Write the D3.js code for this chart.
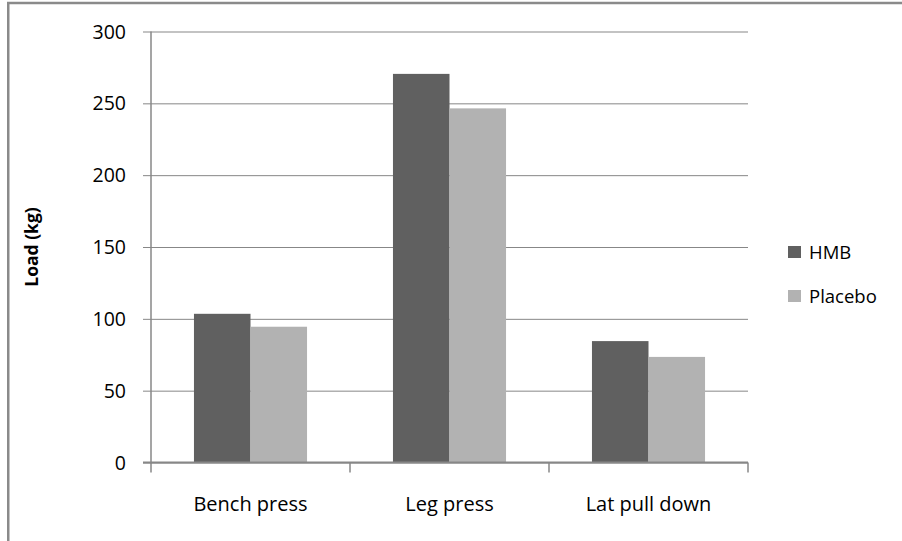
<!DOCTYPE html>
<html>
<head>
<meta charset="utf-8">
<script src="https://cdn.jsdelivr.net/npm/d3@7"></script>
<style>
body { margin: 0; background: #fff; }
svg { display: block; }
text { font-family: "Open Sans", sans-serif; fill: #000; }
</style>
</head>
<body>
<div id="chartArea"></div>
<script>
// data
const categories = ["Bench press", "Leg press", "Lat pull down"];
const seriesNames = ["HMB", "Placebo"];
const hmbValues = [103.5, 270.5, 84.5];
const placeboValues = [94.5, 246.5, 73.5];
const yTicks = [0, 50, 100, 150, 200, 250, 300];

const colors = { HMB: "#606060", Placebo: "#b2b2b2" };
const gridColor = "#878787";

const W = 902, H = 541;
const margin = { top: 31.5, left: 151, right: 154, bottom: 78.5 },
width = W - margin.left - margin.right,
height = H - margin.top - margin.bottom;

const svg = d3.select("#chartArea")
.append("svg")
.attr("width", W)
.attr("height", H);

// outer frame: only top and left edges are inside the picture
svg.append("line")
.attr("x1", 7).attr("x2", W)
.attr("y1", 3).attr("y2", 3)
.attr("stroke", "#8a8a8a")
.attr("stroke-width", 2.5);
svg.append("line")
.attr("x1", 8.25).attr("x2", 8.25)
.attr("y1", 2).attr("y2", H)
.attr("stroke", "#8a8a8a")
.attr("stroke-width", 2.5);

const g = svg.append("g")
.attr("transform", `translate(${margin.left},${margin.top})`);

const rows = categories.map((c, i) => ({ cat: c, HMB: hmbValues[i], Placebo: placeboValues[i] }));

const x0 = d3.scaleBand().domain(categories).range([0, width]).padding(0);
const x1 = d3.scaleBand().domain(seriesNames).range([0, x0.bandwidth()])
.paddingInner(0).paddingOuter(0.76);
const y = d3.scaleLinear().domain([0, 300]).range([height, 0]);

// gridlines + short ticks on the left
g.append("g")
.attr("transform", "translate(-8,0)")
.call(d3.axisRight(y).tickValues(yTicks).tickSize(width + 8).tickFormat(""))
.call(a => a.select(".domain").remove())
.selectAll("line")
.attr("stroke", gridColor)
.attr("stroke-width", 1);

// y tick labels
g.selectAll(".ylab")
.data(yTicks)
.enter()
.append("text")
.attr("x", -25)
.attr("y", d => y(d))
.attr("dy", "0.36em")
.attr("text-anchor", "end")
.style("font-size", "19.5px")
.text(d => d);

// bars
const groups = g.selectAll(".grp")
.data(rows)
.enter()
.append("g")
.attr("transform", d => `translate(${x0(d.cat)},0)`);

groups.selectAll("rect")
.data(d => seriesNames.map(k => ({ key: k, value: d[k] })))
.enter()
.append("rect")
.attr("x", d => x1(d.key))
.attr("y", d => y(d.value))
.attr("width", x1.bandwidth())
.attr("height", d => height - y(d.value))
.attr("fill", d => colors[d.key]);

// y axis line
g.append("line")
.attr("x1", 0).attr("x2", 0)
.attr("y1", 0).attr("y2", height + 1)
.attr("stroke", gridColor)
.attr("stroke-width", 1.5);

// x axis
const xAxis = g.append("g")
.attr("transform", `translate(0,${height})`);
xAxis.append("line")
.attr("x1", -8).attr("x2", width)
.attr("stroke", gridColor)
.attr("stroke-width", 2);
xAxis.selectAll(".xt")
.data(d3.range(categories.length + 1))
.enter()
.append("line")
.attr("x1", i => i < categories.length ? x0(categories[i]) : width)
.attr("x2", i => i < categories.length ? x0(categories[i]) : width)
.attr("y1", 0).attr("y2", 10)
.attr("stroke", gridColor)
.attr("stroke-width", 1.5);
xAxis.selectAll(".xlab")
.data(categories)
.enter()
.append("text")
.attr("x", d => x0(d) + x0.bandwidth() / 2)
.attr("y", 48)
.attr("text-anchor", "middle")
.style("font-size", "20px")
.text(d => d);

// y title
svg.append("text")
.attr("transform", `translate(38,247) rotate(-90)`)
.attr("text-anchor", "middle")
.style("font-size", "17.5px")
.style("font-weight", "bold")
.text("Load (kg)");

// legend
const legend = svg.selectAll(".legend")
.data(seriesNames)
.enter()
.append("g")
.attr("transform", (d, i) => `translate(788,${246 + i * 44})`);

legend.append("rect")
.attr("width", 13)
.attr("height", 12)
.attr("fill", d => colors[d]);

legend.append("text")
.attr("x", 21)
.attr("y", 12.5)
.style("font-size", "18.5px")
.text(d => d);
</script>
</body>
</html>
